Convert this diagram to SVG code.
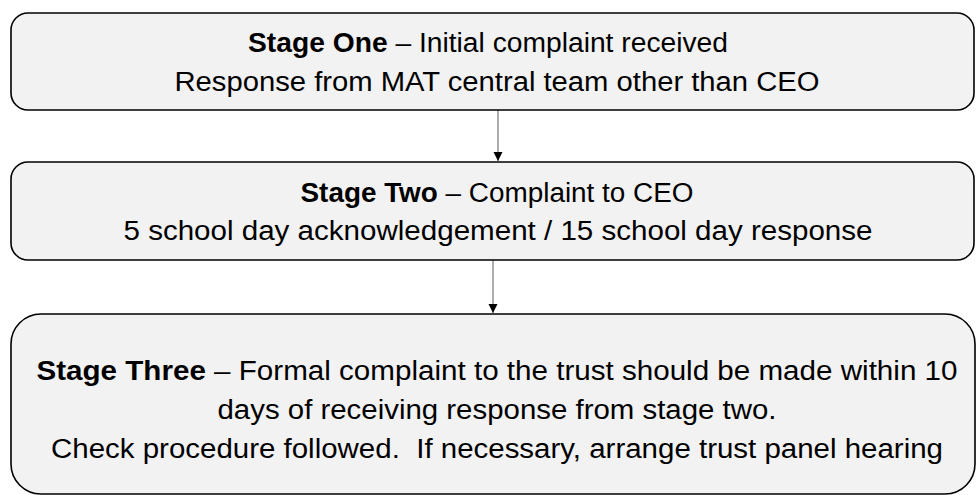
<svg xmlns="http://www.w3.org/2000/svg" width="976" height="495" viewBox="0 0 976 495">
<defs>
<style>
.box{fill:#f2f2f2;stroke:#000;stroke-width:1.6}
.t{font-family:"Liberation Sans",Arial,sans-serif;font-size:27px;fill:#000;text-anchor:middle}
.b{font-weight:bold}
.conn{stroke:#808080;stroke-width:1.3;fill:none}
</style>
<marker id="ah" markerWidth="10" markerHeight="10" refX="9" refY="5" orient="auto" markerUnits="userSpaceOnUse">
<path d="M0,0.5 L9,5 L0,9.5 Z" fill="#000"/>
</marker>
</defs>
<rect width="976" height="495" fill="#fff"/>
<g id="connectors">
<line class="conn" x1="498" y1="110" x2="498" y2="161" marker-end="url(#ah)"/>
<line class="conn" x1="493" y1="260" x2="493" y2="313" marker-end="url(#ah)"/>
</g>
<g id="stage1">
<rect class="box" x="11" y="13" width="963" height="97" rx="17" ry="17"/>
<text class="t" x="488" y="52" textLength="480" lengthAdjust="spacingAndGlyphs"><tspan class="b">Stage One</tspan> – Initial complaint received</text>
<text class="t" x="497" y="91" textLength="645" lengthAdjust="spacingAndGlyphs">Response from MAT central team other than CEO</text>
</g>
<g id="stage2">
<rect class="box" x="11" y="162" width="963" height="98" rx="17" ry="17"/>
<text class="t" x="497" y="202" textLength="393" lengthAdjust="spacingAndGlyphs"><tspan class="b">Stage Two</tspan> – Complaint to CEO</text>
<text class="t" x="498" y="240" textLength="749" lengthAdjust="spacingAndGlyphs">5 school day acknowledgement / 15 school day response</text>
</g>
<g id="stage3">
<rect class="box" x="11" y="314" width="964" height="180" rx="30" ry="30"/>
<text class="t" x="497" y="380" textLength="921" lengthAdjust="spacingAndGlyphs"><tspan class="b">Stage Three</tspan> – Formal complaint to the trust should be made within 10</text>
<text class="t" x="497" y="419" textLength="559" lengthAdjust="spacingAndGlyphs">days of receiving response from stage two.</text>
<text class="t" x="497" y="458" textLength="892" lengthAdjust="spacingAndGlyphs" xml:space="preserve">Check procedure followed.  If necessary, arrange trust panel hearing</text>
</g>
</svg>
